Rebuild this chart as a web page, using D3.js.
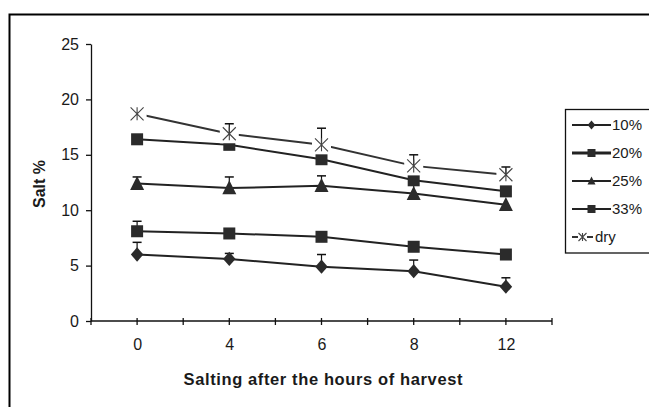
<!DOCTYPE html>
<html><head><meta charset="utf-8">
<script src="https://cdn.jsdelivr.net/npm/d3@7"></script>
<style>body{margin:0;background:#fff}svg{display:block}text{font-family:"Liberation Sans",Arial,sans-serif;fill:#1a1a1a}</style>
</head><body><svg id="c" width="649" height="407"></svg>
<script>
const hours = ["0","4","6","8","12"];
const yTicks = [0,5,10,15,20,25];
const s10 = [6.0,5.6,4.9,4.5,3.1];
const s20 = [8.1,7.9,7.6,6.7,6.0];
const s25 = [12.4,12.0,12.2,11.5,10.5];
const s33 = [16.4,15.9,14.6,12.7,11.7];
const sdry = [18.7,16.9,15.9,14.0,13.2];
const e10 = [1.1,0.5,1.1,1.0,0.8];
const e20 = [0.9,0.3,0,0,0];
const e25 = [0.6,1.0,0.9,0.9,0];
const e33 = [0,0,0,0,0];
const edry = [0,0.9,1.5,1.0,0.7];
const seriesNames = ["10%","20%","25%","33%","dry"];

const svg = d3.select("#c");
svg.append("rect").attr("width",649).attr("height",407).attr("fill","#fff");
svg.append("rect").attr("x",9.5).attr("y",14.5).attr("width",700).attr("height",500)
  .attr("fill","none").attr("stroke","#000").attr("stroke-width",2);

const x0 = 91, x1 = 552, yB = 321, yT = 44;
const xp = d3.scalePoint().domain(hours).range([x0,x1]).padding(0.5);
const xb = d3.scaleBand().domain(hours).range([x0,x1]).padding(0);
const y = d3.scaleLinear().domain([0,25]).range([yB,yT]);

// y axis
const ya = svg.append("g").attr("transform",`translate(${x0},0)`)
  .call(d3.axisLeft(y).tickValues(yTicks).tickSize(5).tickPadding(7).tickSizeOuter(0));
ya.select(".domain").attr("stroke","#111").attr("stroke-width",1.3);
ya.selectAll(".tick line").attr("stroke","#111").attr("stroke-width",1.3);
ya.selectAll(".tick text").style("font-size","16px").attr("fill","#1a1a1a");

// x axis
const xa = svg.append("g").attr("transform",`translate(0,${yB})`)
  .call(d3.axisBottom(xp).tickSize(0).tickPadding(18).tickSizeOuter(0));
xa.select(".domain").attr("stroke","#111").attr("stroke-width",1.3).attr("d",`M${x0},0H${x1}`);
xa.selectAll(".tick text").style("font-size","16px").attr("fill","#1a1a1a");
const tickXs = hours.map(h=>xb(h)).concat([x1]).concat(hours.map(h=>xp(h)));
svg.append("g").selectAll("line").data(tickXs).join("line")
  .attr("x1",d=>d).attr("x2",d=>d).attr("y1",yB-3).attr("y2",yB+4)
  .attr("stroke","#111").attr("stroke-width",1.3);

// titles
svg.append("text").attr("x",323).attr("y",385).attr("text-anchor","middle")
  .attr("textLength",279).attr("lengthAdjust","spacing")
  .style("font-size","16.5px").style("font-weight","bold").text("Salting after the hours of harvest");
svg.append("text").attr("transform","translate(45,184) rotate(-90)").attr("text-anchor","middle")
  .style("font-size","16px").style("font-weight","bold").text("Salt %");

const col = "#2b2b2b";
function marker(g, type, cx, cy, s) {
  if (type==="diamond") {
    g.append("path").attr("d",`M${cx},${cy-s*0.55}L${cx+s*0.48},${cy}L${cx},${cy+s*0.55}L${cx-s*0.48},${cy}Z`).attr("fill",col);
  } else if (type==="square") {
    g.append("rect").attr("x",cx-s/2).attr("y",cy-s/2).attr("width",s).attr("height",s).attr("fill",col);
  } else if (type==="triangle") {
    g.append("path").attr("d",`M${cx},${cy-s*0.55}L${cx+s*0.5},${cy+s*0.45}L${cx-s*0.5},${cy+s*0.45}Z`).attr("fill",col);
  } else if (type==="star") {
    const h = s/2;
    g.append("path").attr("d",`M${cx-h},${cy-h}L${cx+h},${cy+h}M${cx+h},${cy-h}L${cx-h},${cy+h}M${cx},${cy-h}L${cx},${cy+h}`)
      .attr("stroke","#444").attr("stroke-width",1.1).attr("fill","none");
  }
}

const series = [
  {vals:s10, err:e10, type:"diamond", size:13},
  {vals:s20, err:e20, type:"square", size:12},
  {vals:s25, err:e25, type:"triangle", size:14},
  {vals:s33, err:e33, type:"square", size:12},
  {vals:sdry, err:edry, type:"star", size:13}
];
const line = d3.line().x((d,i)=>xp(hours[i])).y(d=>y(d));

series.forEach((s,si)=>{
  const g = svg.append("g");
  if (s.type==="star") {
    g.append("path").attr("d",line(s.vals)).attr("fill","none").attr("stroke","#333").attr("stroke-width",2);
    s.vals.forEach((v,i)=>{
      g.append("rect").attr("x",xp(hours[i])-9.5).attr("y",y(v)-9.5).attr("width",19).attr("height",19).attr("fill","#fff");
    });
  } else {
    g.append("path").attr("d",line(s.vals)).attr("fill","none").attr("stroke","#222").attr("stroke-width",2);
  }
  s.vals.forEach((v,i)=>{
    const cx = xp(hours[i]);
    if (s.err[i]>0) {
      const yt = y(v+s.err[i]);
      g.append("line").attr("x1",cx).attr("x2",cx).attr("y1",y(v)).attr("y2",yt).attr("stroke","#111").attr("stroke-width",1.2);
      g.append("line").attr("x1",cx-4.5).attr("x2",cx+4.5).attr("y1",yt).attr("y2",yt).attr("stroke","#111").attr("stroke-width",1.5);
    }
    marker(g, s.type, cx, y(v), s.size);
  });
});

// legend
const lg = svg.append("g");
lg.append("rect").attr("x",565.5).attr("y",109.5).attr("width",120).attr("height",143.5)
  .attr("fill","#fff").attr("stroke","#111").attr("stroke-width",1.3);
const legY = d3.scalePoint().domain(seriesNames).range([125,237]);
const legW = [2,2.8,2,2.2,2];
series.forEach((s,si)=>{
  const yy = legY(seriesNames[si]);
  if (s.type==="star") {
    lg.append("line").attr("x1",572).attr("x2",578).attr("y1",yy).attr("y2",yy).attr("stroke","#333").attr("stroke-width",2);
    lg.append("line").attr("x1",587).attr("x2",593).attr("y1",yy).attr("y2",yy).attr("stroke","#333").attr("stroke-width",2);
    marker(lg,"star",582.5,yy,8);
    lg.append("text").attr("x",595).attr("y",yy+5).style("font-size","15px").text(seriesNames[si]);
  } else {
    lg.append("line").attr("x1",572).attr("x2",611).attr("y1",yy).attr("y2",yy).attr("stroke","#222").attr("stroke-width",legW[si]);
    marker(lg,s.type,591.5,yy,8);
    lg.append("text").attr("x",612).attr("y",yy+5).style("font-size","15px").text(seriesNames[si]);
  }
});
</script></body></html>
